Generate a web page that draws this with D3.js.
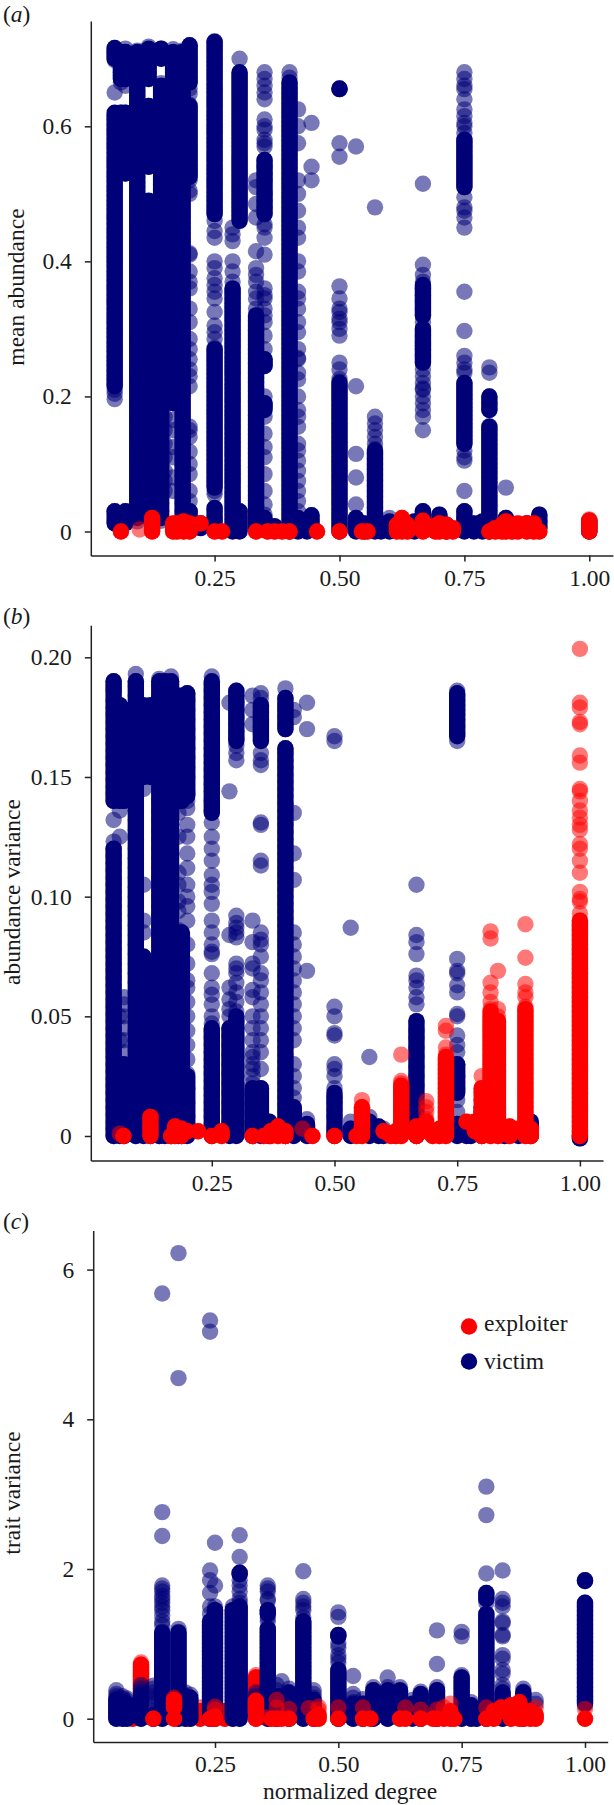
<!DOCTYPE html>
<html><head><meta charset="utf-8">
<script src="https://cdn.jsdelivr.net/npm/d3@7/dist/d3.min.js"></script>
<style>html,body{margin:0;padding:0;background:#fff}svg{display:block}text{font-family:"Liberation Serif",serif;fill:#1a1a1a}</style>
</head><body><div id="c"></div>
<script>
const xTicks=[.25,.5,.75,1];
const xTickLabels=["0.25","0.50","0.75","1.00"];
const aTicks=[0,.2,.4,.6],aTickLabels=["0","0.2","0.4","0.6"];
const bTicks=[0,.05,.1,.15,.2],bTickLabels=["0","0.05","0.10","0.15","0.20"];
const cTicks=[0,2,4,6],cTickLabels=["0","2","4","6"];
const seriesNames=["exploiter","victim"];
const seriesColors={exploiter:"#ff0000",victim:"#000078"};

// Saturated stretches of each column: [degree, from, to], where points overplot into a solid band.
const aVictimRuns=[[.05,.012,.03],[.05,.215,.62],[.05,.7,.716],[.0625,.54,.62],[.0625,.67,.71],[.0714,.012,.03],[.0714,.53,.62],[.0714,.67,.71],[.0952,.02,.71],[.118,.03,.49],[.118,.54,.63],[.118,.67,.715],[.143,.02,.66],[.143,.7,.715],[.15,.2,.63],[.167,.19,.71],[.186,.012,.71],[.2,.012,.03],[.2,.525,.63],[.2,.665,.72],[.222,.005,.012],[.25,.012,.035],[.25,.065,.27],[.25,.47,.725],[.286,0,.36],[.3,0,.03],[.3,.46,.68],[.333,.005,.32],[.35,.005,.02],[.35,.18,.19],[.35,.245,.255],[.35,.47,.55],[.37,.003,.008],[.4,0,.665],[.417,0,.02],[.435,0,.015],[.444,.005,.024],[.5,0,.22],[.5,.655,.656],[.533,0,.02],[.55,0,.012],[.571,0,.12],[.583,0,.012],[.6,0,.015],[.625,.005,.013],[.65,0,.015],[.667,.012,.03],[.667,.25,.3],[.667,.32,.365],[.7,.005,.025],[.714,0,.01],[.75,0,.03],[.75,.13,.22],[.75,.51,.58],[.769,0,.012],[.786,0,.015],[.8,0,.155],[.8,.18,.2],[.833,.005,.02],[.875,.003,.012],[.9,.005,.025],[1,0,.016]];
const aExploiterRuns=[[.0625,0,0],[.125,0,.02],[.167,0,.012],[.175,0,.012],[.188,0,.015],[.2,0,.012],[.222,.012,.012],[.25,0,0],[.265,0,0],[.333,0,0],[.356,0,0],[.37,0,0],[.385,0,0],[.4,0,0],[.455,0,0],[.5,0,0],[.545,0,0],[.556,0,0],[.615,0,.01],[.625,0,.02],[.636,0,.01],[.667,0,.016],[.692,0,.008],[.7,0,.012],[.714,0,.01],[.727,0,.005],[.8,0,0],[.812,0,.005],[.825,0,.01],[.833,0,.015],[.846,0,.01],[.857,0,.012],[.875,0,.012],[.889,0,.012],[.9,0,0],[1,0,.016]];
const bVictimRuns=[[.05,0,.12],[.05,.14,.19],[.0625,0,.03],[.0625,.14,.18],[.0714,0,.03],[.0714,.14,.178],[.0952,0,.19],[.111,0,.075],[.111,.15,.18],[.125,0,.072],[.125,.15,.18],[.143,0,.19],[.154,0,.19],[.167,0,.19],[.182,0,.085],[.182,.14,.184],[.189,0,.085],[.189,.14,.184],[.2,0,.025],[.2,.142,.185],[.25,0,.045],[.25,.135,.19],[.286,0,.045],[.3,0,.05],[.3,.165,.186],[.333,0,.02],[.35,0,.02],[.35,.165,.18],[.367,0,.006],[.4,0,.162],[.4,.17,.183],[.417,0,.012],[.444,0,.005],[.5,0,.018],[.533,0,.003],[.571,0,.006],[.59,0,.004],[.6,0,.002],[.667,0,.048],[.75,0,.005],[.75,.018,.03],[.75,.167,.185],[.769,0,.003],[.778,0,.001],[.8,0,.012],[.846,0,.001],[.875,0,.001],[.9,0,.006],[1,-.001,0]];
const bExploiterRuns=[[.07,0,0],[.125,0,.008],[.167,0,0],[.175,0,.004],[.188,0,.003],[.2,.002,.002],[.222,.002,.002],[.25,0,0],[.27,0,.002],[.333,0,0],[.356,0,0],[.37,0,.002],[.385,0,.004],[.4,0,.002],[.455,0,0],[.5,0,0],[.545,0,0],[.556,0,.012],[.6,.002,.002],[.615,0,0],[.625,0,.002],[.636,0,.021],[.667,0,.004],[.687,.002,.006],[.7,0,0],[.714,0,.003],[.727,0,.033],[.769,.006,.006],[.786,.002,.006],[.8,0,.02],[.818,0,.052],[.833,0,.048],[.857,0,.004],[.875,.003,.003],[.889,0,.053],[.9,0,.003],[1,0,.09]];
const cExploiterUnderRuns=[[.1,.35,.72],[.083,0,.1],[.22,0,.1],[.2,.05,.15],[.27,0,.1],[.333,.3,.55]];
const cVictimRuns=[[.05,0,.25],[.0625,0,.22],[.0714,0,.2],[.1,0,.05],[.1,.2,.3],[.125,0,.05],[.143,0,1.15],[.176,0,1.15],[.19,0,.3],[.2,0,.28],[.24,0,1.3],[.25,0,1.45],[.286,0,1.45],[.3,0,1.5],[.3,1.93,1.95],[.357,0,1.2],[.357,1.4,1.45],[.375,0,.3],[.4,0,.35],[.429,0,1.3],[.45,0,.25],[.5,0,.65],[.5,1.1,1.12],[.53,0,.2],[.55,0,.2],[.571,0,.38],[.6,0,.38],[.625,.1,.38],[.65,0,.2],[.667,0,.33],[.7,0,.38],[.75,0,.55],[.769,0,.18],[.78,0,.1],[.8,0,1.4],[.8,1.6,1.68],[.833,0,.35],[.875,0,.35],[1,.2,1.55],[1,1.84,1.85]];
const cExploiterTopRuns=[[.125,0,0],[.167,0,0],[.167,.15,.25],[.25,0,.03],[.24,0,0],[.333,0,0],[.333,.08,.24],[.365,0,0],[.375,0,0],[.385,0,0],[.4,0,0],[.45,0,0],[.46,0,.05],[.5,0,0],[.55,0,0],[.565,0,0],[.625,0,0],[.636,0,0],[.667,0,0],[.692,0,0],[.7,0,0],[.714,0,0],[.727,0,.1],[.735,0,0],[.8,0,0],[.815,0,.1],[.83,.1,.15],[.85,0,.18],[.867,0,.22],[.875,0,0],[.889,0,.1],[.9,0,.05],[1,0,0]];

const aVictim=[
[.05,[.014,.03,.196,.204,.21,.218,.225,.231,.238,.246,.253,.259,.267,.274,.28,.288,.295,.301,.309,.316,.322,.33,.337,.343,.351,.358,.364,.372,.379,.385,.393,.4,.406,.414,.421,.427,.435,.442,.448,.456,.463,.469,.477,.484,.49,.498,.505,.511,.519,.526,.532,.54,.547,.553,.561,.568,.574,.582,.589,.595,.603,.61,.616,.65,.698,.703,.708,.712,.716]],
[.0625,[.6,.595,.59,.585,.58,.575,.57,.565,.56,.555,.55,.545,.54,.53,.62,.61,.68,.685,.69,.695,.7,.705,.71,.675,.67,.665]],
[.0714,[.014,.03,.53,.54,.55,.56,.57,.58,.59,.6,.61,.62,.66,.67,.68,.69,.7,.71,.715]],
[.0952,[.015,.03,.045,.052,.06,.067,.075,.082,.09,.097,.105,.112,.12,.127,.135,.142,.15,.157,.165,.172,.18,.187,.195,.202,.21,.217,.225,.232,.24,.247,.255,.262,.27,.277,.285,.292,.3,.307,.315,.322,.33,.337,.345,.352,.36,.367,.375,.382,.39,.397,.405,.412,.42,.427,.435,.442,.45,.457,.465,.472,.48,.487,.495,.502,.51,.517,.525,.532,.54,.547,.555,.562,.57,.577,.585,.592,.6,.607,.615,.622,.63,.637,.645,.652,.66,.667,.675,.682,.69,.697,.705,.712]],
[.118,[.02,.04,.052,.064,.075,.086,.1,.112,.124,.136,.15,.162,.174,.186,.2,.212,.224,.236,.25,.262,.274,.286,.3,.312,.324,.336,.35,.362,.374,.386,.4,.412,.424,.436,.45,.462,.474,.486,.54,.55,.56,.57,.58,.59,.6,.61,.62,.63,.67,.68,.69,.7,.71,.718]],
[.133,[.06,.1,.14,.18,.22,.26,.3,.34,.38,.42,.46,.475]],
[.143,[.016,.03,.042,.05,.058,.066,.074,.082,.09,.098,.106,.114,.122,.13,.138,.146,.154,.162,.17,.178,.186,.194,.202,.21,.218,.226,.234,.242,.25,.258,.266,.274,.282,.29,.298,.306,.314,.322,.33,.338,.346,.354,.362,.37,.378,.386,.394,.402,.41,.418,.426,.434,.442,.45,.458,.466,.474,.482,.49,.498,.506,.514,.522,.53,.538,.546,.554,.562,.57,.578,.586,.594,.602,.61,.618,.626,.634,.642,.65,.658,.664,.7,.71,.715]],
[.15,[.06,.075,.09,.11,.13,.15,.17,.19,.21,.23,.25,.27,.29,.31,.33,.35,.37,.39,.41,.43,.45,.47,.49,.51,.53,.55,.57,.59,.61,.63]],
[.167,[.19,.197,.205,.212,.22,.228,.236,.244,.252,.26,.268,.276,.284,.292,.3,.308,.316,.324,.332,.34,.348,.356,.364,.372,.38,.388,.396,.404,.412,.42,.428,.436,.444,.452,.46,.468,.476,.484,.492,.5,.508,.516,.524,.532,.54,.548,.556,.564,.572,.58,.588,.596,.604,.612,.62,.628,.636,.644,.652,.66,.668,.676,.684,.692,.7,.708,.714,.15,.165,.08,.06,.11,.125]],
[.186,[.014,.03,.042,.05,.058,.066,.074,.082,.09,.098,.106,.114,.122,.13,.138,.146,.154,.162,.17,.178,.186,.194,.202,.21,.218,.226,.234,.242,.25,.258,.266,.274,.282,.29,.298,.306,.314,.322,.33,.338,.346,.354,.362,.37,.378,.386,.394,.402,.41,.418,.426,.434,.442,.45,.458,.466,.474,.482,.49,.498,.506,.514,.522,.53,.538,.546,.554,.562,.57,.578,.586,.594,.602,.61,.618,.626,.634,.642,.65,.658,.666,.674,.682,.69,.698,.706,.712]],
[.2,[.015,.03,.045,.06,.085,.1,.118,.14,.15,.155,.215,.23,.24,.255,.27,.285,.31,.33,.36,.37,.385,.41,.412,.5,.505,.52,.528,.535,.542,.55,.557,.565,.572,.58,.587,.595,.602,.61,.617,.625,.632,.656,.665,.672,.68,.687,.695,.702,.71,.717,.72,.648]],
[.222,[.012]],
[.25,[.012,.02,.033,.055,.06,.068,.074,.08,.087,.094,.1,.107,.114,.12,.127,.134,.14,.147,.154,.16,.167,.174,.18,.187,.194,.2,.207,.214,.22,.227,.234,.24,.247,.254,.26,.267,.272,.285,.295,.305,.325,.345,.355,.365,.375,.39,.4,.435,.445,.46,.47,.476,.482,.49,.496,.502,.51,.516,.522,.53,.536,.542,.55,.556,.562,.57,.576,.582,.59,.596,.602,.61,.616,.622,.63,.636,.642,.65,.656,.662,.67,.676,.682,.69,.696,.702,.71,.716,.722,.726]],
[.286,[.005,.012,.018,.025,.032,.038,.045,.052,.058,.065,.072,.078,.085,.092,.098,.105,.112,.118,.125,.132,.138,.145,.152,.158,.165,.172,.178,.185,.192,.198,.205,.212,.218,.225,.232,.238,.245,.252,.258,.265,.272,.278,.285,.292,.298,.305,.312,.318,.325,.332,.338,.345,.352,.358,.37,.385,.4,.43,.44,.45]],
[.3,[.005,.013,.02,.03,.462,.468,.474,.48,.486,.492,.498,.504,.51,.516,.522,.528,.534,.54,.546,.552,.558,.564,.57,.576,.582,.588,.594,.6,.606,.612,.618,.624,.63,.636,.642,.648,.654,.66,.666,.672,.678,.7]],
[.333,[.01,.018,.025,.032,.039,.046,.053,.06,.067,.074,.081,.088,.095,.102,.109,.116,.123,.13,.137,.144,.151,.158,.165,.172,.179,.186,.193,.2,.207,.214,.221,.228,.235,.242,.249,.256,.263,.27,.277,.284,.291,.298,.305,.312,.32,.33,.345,.355,.37,.38,.39,.415,.465,.485,.51,.52]],
[.35,[.005,.015,.025,.04,.06,.085,.11,.125,.145,.17,.185,.19,.2,.245,.25,.255,.27,.29,.31,.32,.33,.345,.35,.36,.41,.435,.45,.455,.47,.48,.49,.5,.52,.53,.54,.55,.57,.575,.58,.595,.6,.61,.64,.65,.66,.67,.68]],
[.37,[.006]],
[.4,[.005,.012,.019,.026,.033,.04,.047,.054,.061,.068,.075,.082,.089,.096,.103,.11,.117,.124,.131,.138,.145,.152,.159,.166,.173,.18,.187,.194,.201,.208,.215,.222,.229,.236,.243,.25,.257,.264,.271,.278,.285,.292,.299,.306,.313,.32,.327,.334,.341,.348,.355,.362,.369,.376,.383,.39,.397,.404,.411,.418,.425,.432,.439,.446,.453,.46,.467,.474,.481,.488,.495,.502,.509,.516,.523,.53,.537,.544,.551,.558,.565,.572,.579,.586,.593,.6,.607,.614,.621,.628,.635,.642,.649,.656,.664,.672,.68]],
[.417,[.005,.015,.03,.045,.06,.075,.09,.105,.12,.13,.155,.17,.18,.2,.225,.235,.255,.257,.27,.295,.31,.33,.345,.355,.385,.4,.435,.45,.475,.5,.52,.575,.6,.625]],
[.435,[.005,.015]],
[.444,[.008,.016,.024,.52,.54,.605]],
[.5,[.005,.012,.02,.027,.034,.041,.048,.055,.062,.069,.076,.083,.09,.097,.104,.111,.118,.125,.132,.139,.146,.153,.16,.167,.174,.181,.188,.195,.202,.209,.216,.222,.226,.24,.25,.29,.3,.31,.315,.325,.33,.345,.363,.555,.575,.655,.656]],
[.533,[.005,.012,.02,.04,.08,.115,.215,.57]],
[.55,[.005,.012]],
[.571,[.004,.012,.02,.028,.036,.044,.052,.06,.068,.076,.084,.092,.1,.108,.116,.122,.13,.14,.15,.16,.17,.48]],
[.6,[.003,.01,.02]],
[.625,[.005,.013]],
[.65,[.005,.015]],
[.667,[.012,.022,.03,.15,.17,.18,.19,.2,.21,.212,.22,.23,.24,.25,.26,.27,.275,.28,.29,.3,.31,.32,.33,.34,.35,.36,.37,.38,.395,.515]],
[.7,[.005,.015,.025]],
[.75,[.005,.012,.02,.03,.06,.105,.11,.12,.13,.136,.142,.148,.154,.16,.166,.172,.178,.184,.19,.196,.202,.208,.214,.22,.235,.24,.25,.26,.297,.355,.45,.465,.475,.48,.495,.51,.516,.522,.528,.534,.54,.546,.552,.558,.564,.57,.576,.58,.59,.6,.605,.615,.625,.64,.655,.66,.67,.68]],
[.769,[.005,.012]],
[.8,[.003,.01,.017,.024,.031,.038,.045,.052,.059,.066,.073,.08,.087,.094,.101,.108,.115,.122,.129,.136,.143,.15,.156,.18,.19,.2,.235,.243]],
[.833,[.005,.015,.02,.065]],
[.875,[.005,.012]],
[.9,[.005,.015,.025]],
[1,[0,.005,.01,.016]]
];
const aExploiter=[
[.0625,[0]],[.1,[.003]],[.125,[0,.005,.01,.015,.02]],[.167,[0,.012]],[.175,[0,.012]],[.188,[0,.015]],[.2,[0,.012]],[.222,[.012]],[.25,[0]],[.265,[0]],
[.333,[0]],[.356,[0]],[.37,[0]],[.385,[0]],[.4,[0]],[.455,[0]],[.5,[0]],[.545,[0]],[.556,[0]],[.615,[0,.01]],[.625,[0,.012,.02]],[.636,[0,.01]],[.667,[0,.012,.016]],
[.692,[0,.008]],[.7,[0,.012]],[.714,[0,.01]],[.727,[0,.005]],[.8,[0]],[.812,[0,.005]],[.825,[0,.01]],[.833,[0,.015]],[.846,[0,.01]],[.857,[0,.012]],[.875,[0,.012]],[.889,[0,.012]],[.9,[0]],
[1,[0,.005,.01,.015,.018]]
];
const bVictim=[
[.05,[0,.003,.006,.009,.012,.015,.018,.021,.024,.027,.03,.033,.036,.039,.042,.045,.048,.051,.054,.057,.06,.063,.066,.069,.072,.075,.078,.081,.084,.087,.09,.093,.096,.099,.102,.105,.108,.111,.114,.117,.12,.123,.132,.14,.143,.146,.149,.152,.155,.158,.161,.164,.167,.17,.173,.176,.179,.182,.186,.188,.19]],
[.0625,[.002,.01,.02,.03,.04,.05,.125,.136,.14,.145,.15,.155,.16,.165,.17,.175,.18]],
[.0714,[.005,.035,.04,.045,.05,.055,.058,.14,.15,.16,.17,.178]],
[.0952,[0,.004,.008,.012,.016,.02,.024,.028,.032,.036,.04,.044,.048,.052,.056,.06,.064,.068,.072,.076,.08,.084,.088,.092,.096,.1,.104,.108,.112,.116,.12,.124,.128,.132,.136,.14,.144,.148,.152,.156,.16,.164,.168,.172,.176,.18,.184,.188,.19,.193]],
[.111,[.002,.01,.018,.026,.034,.042,.05,.058,.066,.074,.085,.09,.105,.145,.15,.155,.16,.17]],
[.125,[.004,.014,.024,.034,.044,.054,.064,.072]],
[.143,[0,.004,.008,.012,.016,.02,.024,.028,.032,.036,.04,.044,.048,.052,.056,.06,.064,.068,.072,.076,.08,.084,.088,.092,.096,.1,.104,.108,.112,.116,.12,.124,.128,.132,.136,.14,.144,.148,.152,.156,.16,.164,.168,.172,.176,.18,.184,.188,.191]],
[.154,[.002,.006,.01,.014,.018,.022,.026,.03,.034,.038,.042,.046,.05,.054,.058,.062,.066,.07,.074,.078,.082,.086,.09,.094,.098,.102,.106,.11,.114,.118,.122,.126,.13,.134,.138,.142,.146,.15,.154,.158,.162,.166,.17,.174,.178,.182,.186,.19]],
[.167,[0,.005,.01,.015,.02,.025,.03,.035,.04,.045,.05,.055,.06,.065,.07,.075,.08,.085,.105,.11,.125,.13,.135,.14,.145,.15,.155,.16,.165,.17,.175,.18,.185,.19,.192]],
[.182,[.002,.006,.01,.014,.018,.022,.026,.03,.034,.038,.042,.046,.05,.054,.058,.062,.066,.07,.074,.078,.082,.086,.094,.098,.105,.11,.125,.135,.14,.144,.148,.152,.156,.16,.164,.168,.172,.176,.18,.184]],
[.2,[.002,.008,.014,.02,.026,.032,.038,.044,.05,.056,.062,.065,.072,.08,.09,.096,.1,.105,.112,.118,.125,.13,.137,.14,.143,.15,.154,.158,.162,.166,.17,.174,.178,.182,.185]],
[.25,[.002,.005,.008,.011,.014,.017,.02,.023,.026,.029,.032,.035,.038,.041,.044,.047,.05,.055,.059,.062,.068,.076,.077,.08,.085,.09,.097,.102,.105,.109,.115,.12,.125,.131,.136,.14,.144,.147,.15,.153,.156,.159,.162,.165,.168,.171,.174,.177,.18,.183,.186,.189,.192]],
[.286,[.002,.006,.01,.014,.018,.022,.026,.03,.034,.038,.042,.045,.05,.053,.057,.062,.084,.144,.181]],
[.3,[.001,.005,.009,.013,.017,.021,.025,.029,.033,.037,.041,.045,.048,.052,.056,.06,.064,.068,.07,.072,.083,.085,.087,.089,.092,.157,.16,.163,.166,.169,.172,.175,.178,.181,.184,.186]],
[.333,[.002,.006,.01,.014,.018,.022,.025,.028,.03,.033,.035,.04,.045,.05,.058,.061,.07,.072,.081,.09,.172,.178,.184]],
[.35,[.002,.004,.008,.012,.016,.02,.028,.035,.04,.045,.05,.055,.06,.065,.068,.075,.08,.082,.085,.113,.115,.13,.131,.155,.157,.16,.165,.168,.171,.174,.177,.18,.183,.185]],
[.367,[.002,.006]],
[.4,[.001,.004,.007,.01,.013,.016,.019,.022,.025,.028,.031,.034,.037,.04,.043,.046,.049,.052,.055,.058,.061,.064,.067,.07,.073,.076,.079,.082,.085,.088,.091,.094,.097,.1,.103,.106,.109,.112,.115,.118,.121,.124,.127,.13,.133,.136,.139,.142,.145,.148,.151,.154,.157,.16,.162,.17,.172,.175,.178,.18,.183,.187]],
[.417,[.002,.008,.012,.016,.02,.025,.03,.04,.045,.05,.055,.06,.065,.07,.075,.08,.085,.107,.118,.135,.175,.178]],
[.444,[.001,.004,.007,.069,.17,.181]],
[.5,[.002,.004,.008,.011,.014,.016,.02,.025,.028,.03,.042,.043,.05,.054,.165,.167]],
[.533,[.001,.003,.006,.087]],
[.571,[.001,.003,.005,.008,.033]],
[.59,[.001,.004]],[.6,[.001,.003]],
[.667,[.001,.005,.009,.013,.017,.021,.025,.029,.033,.037,.041,.044,.048,.055,.058,.062,.065,.067,.076,.081,.084,.105]],
[.75,[.001,.005,.01,.015,.02,.025,.03,.035,.038,.042,.05,.051,.06,.063,.068,.069,.074,.165,.168,.171,.174,.176,.178,.18,.182,.184,.186]],
[.769,[.001,.004]],[.778,[.001]],
[.8,[.001,.003,.005,.007,.01,.012,.015,.018]],
[.846,[.001]],[.875,[.001]],[.9,[.001,.003,.006]],
[1,[-.001,0]]
];
const bExploiter=[
[.0625,[.001]],[.07,[0]],[.125,[.001,.004,.008]],[.167,[0]],[.175,[0,.004]],[.188,[0,.003]],[.2,[.002]],[.222,[.002]],[.25,[0]],[.27,[0,.002]],[.333,[0]],[.356,[0]],[.37,[0,.002]],[.385,[0,.004]],[.4,[0,.002]],[.435,[.003]],[.455,[0]],[.5,[0]],[.545,[0]],
[.556,[0,.002,.004,.006,.008,.01,.012,.015]],[.6,[.002]],[.615,[0]],[.625,[0,.002]],
[.636,[0,.002,.004,.006,.008,.01,.012,.014,.016,.018,.02,.022,.023,.034]],[.667,[0,.004]],[.687,[.002,.005,.007,.01,.012,.0145]],[.7,[0]],[.714,[0,.003]],
[.727,[0,.002,.004,.006,.008,.01,.012,.014,.016,.018,.02,.022,.024,.026,.028,.03,.032,.034,.037,.044,.046]],[.769,[.006]],[.786,[.002,.006]],
[.8,[0,.003,.007,.01,.015,.02,.025]],
[.818,[0,.002,.004,.006,.008,.01,.012,.014,.016,.018,.02,.022,.024,.026,.028,.03,.032,.034,.036,.038,.04,.042,.044,.046,.048,.05,.053,.056,.06,.064,.0825,.0855]],
[.833,[0,.003,.006,.009,.012,.015,.018,.021,.024,.027,.03,.033,.036,.039,.042,.045,.048,.05,.053,.069]],
[.857,[0,.004]],[.875,[.003]],
[.889,[0,.002,.004,.006,.008,.01,.012,.014,.016,.018,.02,.022,.024,.026,.028,.03,.032,.034,.036,.038,.04,.042,.044,.046,.048,.05,.052,.054,.058,.06,.0635,.0745,.0885]],
[.9,[0,.003]],
[1,[0,.002,.004,.006,.008,.01,.012,.014,.016,.018,.02,.022,.024,.026,.028,.03,.032,.034,.036,.038,.04,.042,.044,.046,.048,.05,.052,.054,.056,.058,.06,.062,.064,.066,.068,.07,.072,.074,.076,.078,.08,.082,.084,.086,.088,.09,.093,.098,.099,.102,.11,.115,.12,.122,.128,.13,.133,.136,.14,.144,.145,.156,.159,.172,.173,.179,.181,.2035]]
];
const cExploiterUnder=[
[.1,[.75,.72,.68,.64,.6,.56,.52,.48,.44,.4,.35,.3,.25,.15,.1]],[.083,[0,.1]],
[.22,[0,.1,.15]],[.2,[.05,.15]],[.333,[.58,.55,.5,.45,.4,.35,.3,.25,.2,.15,.1,.05]],[.27,[0,.1]]
];
const cVictim=[
[.05,[0,.03,.06,.09,.12,.15,.18,.21,.24,.27,.3,.33,.38]],
[.0625,[0,.04,.08,.12,.16,.2,.24,.27,.3]],
[.0714,[0,.04,.08,.12,.16,.2,.24,.27]],
[.1,[0,.05,.1,.2,.27,.3,.33,.36,.4,.45]],
[.125,[0,.1,.2,.25,.3,.35,.4,.44]],
[.143,[0,.04,.08,.12,.16,.2,.24,.28,.32,.36,.4,.44,.48,.52,.56,.6,.64,.68,.72,.76,.8,.84,.88,.92,.96,1,1.04,1.08,1.12,1.16,1.25,1.3,1.38,1.45,1.5,1.55,1.6,1.64,1.7,1.74,1.78,2.44,2.76,5.68]],
[.176,[0,.04,.08,.12,.16,.2,.24,.28,.32,.36,.4,.44,.48,.52,.56,.6,.64,.68,.72,.76,.8,.84,.88,.92,.96,1,1.04,1.08,1.12,1.16,1.2,4.55,6.22]],
[.19,[0,.05,.1,.2,.3,.35]],[.2,[0,.05,.1,.15,.25,.32]],
[.24,[0,.05,.1,.15,.2,.25,.3,.35,.4,.45,.5,.55,.6,.65,.7,.75,.8,.85,.9,.95,1,1.05,1.1,1.15,1.2,1.25,1.3,1.4,1.5,1.68,1.85,1.98,5.17,5.32]],
[.25,[0,.05,.1,.15,.2,.25,.3,.35,.4,.45,.5,.55,.6,.65,.7,.75,.8,.85,.9,.95,1,1.05,1.1,1.15,1.2,1.25,1.3,1.35,1.4,1.45,1.5,1.78,2.35]],
[.286,[0,.05,.1,.15,.2,.25,.3,.35,.4,.45,.5,.55,.6,.65,.7,.75,.8,.85,.9,.95,1,1.05,1.1,1.15,1.2,1.25,1.3,1.35,1.4,1.45,1.5]],
[.3,[0,.05,.1,.15,.2,.25,.3,.35,.4,.45,.5,.55,.6,.65,.7,.75,.8,.85,.9,.95,1,1.05,1.1,1.15,1.2,1.25,1.3,1.35,1.4,1.45,1.5,1.55,1.6,1.7,1.78,1.85,1.93,1.95,2.16,2.45]],
[.333,[0,.05,.2,.3,.35]],
[.357,[0,.05,.1,.15,.2,.25,.3,.35,.4,.45,.5,.55,.6,.65,.7,.75,.8,.85,.9,.95,1,1.05,1.1,1.15,1.2,1.3,1.35,1.4,1.45,1.58,1.6,1.7,1.74,1.78]],
[.375,[0,.05,.1,.2,.3,.38,.45]],[.385,[.1,.2,.3,.5]],
[.4,[0,.05,.1,.15,.2,.25,.3,.35,.4]],
[.429,[0,.05,.1,.15,.2,.25,.3,.35,.4,.45,.5,.55,.6,.65,.7,.75,.8,.85,.9,.95,1,1.05,1.1,1.15,1.2,1.25,1.3,1.35,1.45,1.5,1.55,1.6,1.97]],
[.45,[0,.05,.1,.15,.2,.28,.33,.38]],
[.5,[0,.05,.1,.15,.2,.25,.3,.35,.4,.45,.5,.55,.6,.65,.75,.8,.85,.95,1,1.1,1.12,1.36,1.42]],
[.53,[0,.08,.16,.22,.28,.33,.57]],
[.55,[0,.1,.2,.26]],
[.571,[0,.05,.1,.15,.2,.25,.3,.38,.42]],
[.6,[0,.05,.1,.15,.2,.25,.3,.35,.42,.55]],
[.625,[.1,.2,.3,.36,.42]],[.65,[.1,.25]],
[.667,[0,.05,.1,.15,.2,.25,.3,.36]],
[.7,[0,.05,.1,.15,.2,.25,.3,.38,.42,.73,1.18]],
[.75,[0,.05,.1,.15,.2,.25,.3,.35,.4,.45,.5,.55,.58,1.1,1.16]],
[.769,[0,.06,.12,.18,.22]],[.78,[0,.1]],
[.8,[0,.05,.1,.15,.2,.25,.3,.35,.4,.45,.5,.55,.6,.65,.7,.75,.8,.85,.9,.95,1,1.05,1.1,1.15,1.2,1.25,1.3,1.35,1.4,1.55,1.6,1.68,1.94,2.72,3.1]],
[.833,[0,.05,.1,.15,.2,.25,.3,.35,.4,.45,.6,.65,.8,.85,1.1,1.12,1.28,1.3,1.5,1.55,1.6,1.98]],
[.875,[.02,.08,.14,.2,.26,.32,.36,.4]],
[.9,[.2,.25]],
[1,[.18,.24,.3,.36,.42,.48,.54,.6,.66,.72,.78,.84,.9,.96,1.02,1.08,1.14,1.2,1.26,1.32,1.38,1.44,1.5,1.55,1.84,1.85]]
];
const cExploiterTop=[
[.125,[0]],[.167,[0,.15,.2,.25,.28]],[.25,[0,.03,.12,.16]],[.24,[0]],[.333,[0,.12,.2]],[.35,[.02]],[.365,[0]],[.375,[0,.15,.25]],[.385,[0]],[.4,[0,.13]],
[.44,[.14]],[.45,[0]],[.46,[0,.05,.12,.16]],[.5,[0,.15]],[.55,[0,.15]],[.565,[0]],[.625,[0]],[.636,[0,.15]],[.667,[0,.12]],[.692,[0]],[.7,[0,.12]],[.714,[0,.15]],[.727,[0,.1,.2]],[.735,[0]],
[.8,[0,.15]],[.815,[0,.1]],[.83,[.1,.15]],[.85,[0,.18]],[.867,[0,.22]],[.875,[0]],[.889,[0,.1]],[.9,[0,.05,.15]],[1,[0,.13]]
];

const W=614,H=1805,R=8.2,A=.53,FS=23.5;
const svg=d3.select("#c").append("svg").attr("width",W).attr("height",H);
const flat=s=>s.flatMap(([x,ys])=>ys.map(y=>({x,y})));

const panels=[
 {tag:"a",title:"mean abundance",xT:[214.6,589.3],yT:[531.5,126.3],yD:[0,.6],left:90.8,right:613,top:21,bottom:555.6,
  ticks:aTicks,labels:aTickLabels,layers:[["victim",aVictimRuns,aVictim],["exploiter",aExploiterRuns,aExploiter]],titleX:24,titleY:287,tagY:22},
 {tag:"b",title:"abundance variance",xT:[211.8,579.9],yT:[1136,657.3],yD:[0,.2],left:90.8,right:603,top:625.2,bottom:1160.5,
  ticks:bTicks,labels:bTickLabels,layers:[["victim",bVictimRuns,bVictim],["exploiter",bExploiterRuns,bExploiter]],titleX:20,titleY:892,tagY:624.4},
 {tag:"c",title:"trait variance",xT:[215,585],yT:[1718.7,1269.6],yD:[0,6],left:93.2,right:607.7,top:1230.4,bottom:1741.9,
  ticks:cTicks,labels:cTickLabels,layers:[["exploiter",cExploiterUnderRuns,cExploiterUnder],["victim",cVictimRuns,cVictim],["exploiter",cExploiterTopRuns,cExploiterTop]],titleX:20,titleY:1493,tagY:1229}
];
panels.forEach(p=>{
 const x0=d3.scaleLinear().domain([.25,1]).range(p.xT),y0=d3.scaleLinear().domain(p.yD).range(p.yT);
 const x=d3.scaleLinear().domain([x0.invert(p.left),x0.invert(p.right)]).range([p.left,p.right]);
 const y=d3.scaleLinear().domain([y0.invert(p.bottom),y0.invert(p.top)]).range([p.bottom,p.top]);
 p.layers.forEach(([name,runs,s])=>{
  svg.append("g").selectAll("circle").data(flat(s)).join("circle")
   .attr("cx",d=>x(d.x)).attr("cy",d=>y(d.y)).attr("r",R).attr("fill",seriesColors[name]).attr("fill-opacity",A);
  svg.append("g").selectAll("line").data(runs).join("line")
   .attr("x1",d=>x(d[0])).attr("x2",d=>x(d[0])).attr("y1",d=>y(d[1])).attr("y2",d=>y(d[2]))
   .attr("stroke",seriesColors[name]).attr("stroke-width",2*R).attr("stroke-linecap","round");
 });
 const ax=svg.append("g").attr("transform",`translate(0,${p.bottom})`)
  .call(d3.axisBottom(x).tickValues(xTicks).tickFormat((d,i)=>xTickLabels[i]).tickSize(6).tickSizeOuter(0).tickPadding(7.5));
 const ay=svg.append("g").attr("transform",`translate(${p.left},0)`)
  .call(d3.axisLeft(y).tickValues(p.ticks).tickFormat((d,i)=>p.labels[i]).tickSize(6).tickSizeOuter(0).tickPadding(13));
 [ax,ay].forEach(g=>{g.selectAll("path,line").attr("stroke","#222").attr("stroke-width",1.5);
  g.selectAll("text").attr("font-size",FS).attr("font-family",'"Liberation Serif",serif').attr("fill","#1a1a1a");});
 svg.append("text").attr("transform",`translate(${p.titleX},${p.titleY}) rotate(-90)`).attr("text-anchor","middle").attr("font-size",FS).text(p.title);
 const t=svg.append("text").attr("x",3).attr("y",p.tagY).attr("font-size",FS);
 t.append("tspan").text("(");t.append("tspan").attr("font-style","italic").text(p.tag);t.append("tspan").text(")");
});
svg.append("text").attr("x",350).attr("y",1799).attr("text-anchor","middle").attr("font-size",FS).text("normalized degree");
const lg=svg.append("g");
seriesNames.forEach((n,i)=>{
 lg.append("circle").attr("cx",469).attr("cy",[1326.5,1361.5][i]).attr("r",R).attr("fill",seriesColors[n]);
 lg.append("text").attr("x",484).attr("y",[1331,1369][i]).attr("font-size",FS).text(n);
});
</script></body></html>
